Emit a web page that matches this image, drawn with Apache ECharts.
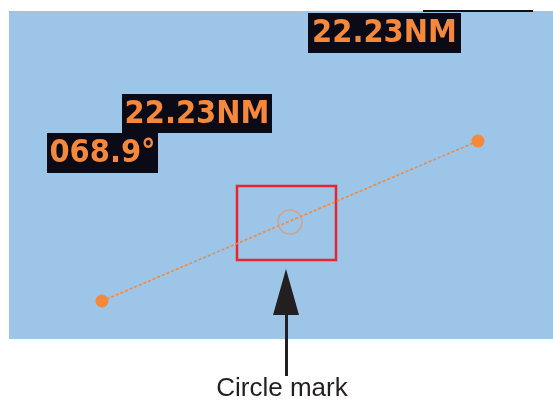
<!DOCTYPE html>
<html>
<head>
<meta charset="utf-8">
<script src="https://cdn.jsdelivr.net/npm/echarts@6/dist/echarts.min.js"></script>
<style>
html, body { margin: 0; padding: 0; background: #fff; }
#chart { width: 553px; height: 401px; }
</style>
</head>
<body>
<div id="chart"></div>
<script>
// route leg in chart units (x right, y up)
const routeX = [93, 469];
const routeY = [38, 198];
// circle mark position on the leg
const markX = [281];
const markY = [117];
// readouts
const distLabels = ['22.23NM', '22.23NM'];
const bearingLabels = ['068.9°'];
const caption = 'Circle mark';

const ORANGE = '#f5883b';
const BOX = '#0b0b17';
const FONT = 'bold 29px "DejaVu Sans"';

const chart = echarts.init(document.getElementById('chart'));

function readout(x, y, w, h, txt) {
    return [
        { type: 'rect', shape: { x: x, y: y, width: w, height: h }, style: { fill: BOX } },
        {
            type: 'text', x: x + w / 2, y: y + h / 2 + 1, scaleY: 1.08,
            style: { text: txt, font: FONT, fill: ORANGE, align: 'center', verticalAlign: 'middle' }
        }
    ];
}

const option = {
    animation: false,
    grid: {
        left: 9, right: 0, top: 11, bottom: 62,
        show: true, backgroundColor: '#9cc5e7', borderWidth: 0
    },
    xAxis: { type: 'value', min: 0, max: 544, show: false },
    yAxis: { type: 'value', min: 0, max: 328, show: false },
    series: [{
        type: 'line',
        data: routeX.map((x, i) => [x, routeY[i]]),
        symbol: 'circle',
        symbolSize: 13,
        itemStyle: { color: ORANGE },
        lineStyle: { color: ORANGE, width: 1.6, type: [3, 2] },
        z: 3
    }, {
        type: 'scatter',
        data: markX.map((x, i) => [x, markY[i]]),
        symbol: 'circle',
        symbolSize: 24,
        itemStyle: { color: 'rgba(0,0,0,0)', borderColor: '#e8956a', borderWidth: 1.4 },
        z: 4
    }],
    graphic: [
        // thin black edge at the top
        { type: 'rect', shape: { x: 423, y: 10, width: 110, height: 2 }, style: { fill: '#111' } },
        ...readout(308, 13, 153, 40, distLabels[0]),
        ...readout(122, 94, 150, 39, distLabels[1]),
        ...readout(47, 133, 111, 40, bearingLabels[0]),
        // red frame around the circle mark
        {
            type: 'rect', shape: { x: 237, y: 186, width: 99, height: 74 },
            style: { fill: 'none', stroke: '#e6262c', lineWidth: 2.5 }
        },
        // arrow
        { type: 'polygon', shape: { points: [[286, 269], [273, 315], [299, 315]] }, style: { fill: '#231f20' } },
        { type: 'rect', shape: { x: 285, y: 312, width: 3, height: 64 }, style: { fill: '#231f20' } },
        {
            type: 'text', x: 282, y: 389,
            style: { text: caption, font: '26px "Liberation Sans"', fill: '#231f20', align: 'center', verticalAlign: 'middle' }
        }
    ]
};
chart.setOption(option);
</script>
</body>
</html>
